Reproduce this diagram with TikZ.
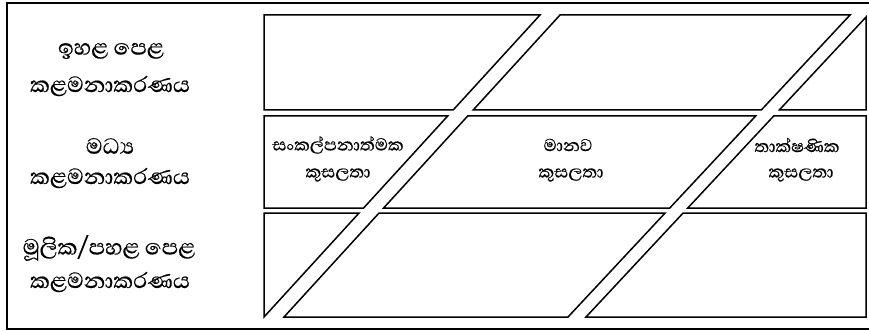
\documentclass[tikz,border=0pt]{standalone}
\usepackage{fontspec}
\newfontfamily\sinhfont[Script=Sinhala,FakeBold=0.4]{Abhaya Libre}
\begin{document}
\begin{tikzpicture}[x=1pt,y=-1pt,
  declare function={xa(\y)=540-0.913907*(\y-15); xb(\y)=560-0.913907*(\y-15);
                    xc(\y)=850-0.933775*(\y-15); xd(\y)=868-0.933775*(\y-15);},
  frame/.style={draw, line width=1.8pt},
  piece/.style={draw, line width=1.5pt, line join=miter},
  lvl/.style={font=\sinhfont\fontsize{28}{32}\selectfont, inner sep=0pt, anchor=center},
  skl/.style={font=\sinhfont\fontsize{22}{26}\selectfont, inner sep=0pt, anchor=center}]
\useasboundingbox (0,0) rectangle (869,331);
\clip (0,0) rectangle (869,331);
\draw[frame] (7,3) rectangle (875,329);
% row 1
\draw[piece] (264,15) -- (540,15) -- ({xa(110)},110) -- (264,110) -- cycle;
\draw[piece] (560,15) -- (850,15) -- ({xc(110)},110) -- ({xb(110)},110) -- cycle;
\draw[piece] (866,17.1) -- (866,110) -- ({xd(110)},110) -- cycle;
% row 2
\draw[piece] (264,116) -- ({xa(116)},116) -- ({xa(208)},208) -- (264,208) -- cycle;
\draw[piece] ({xb(116)},116) -- ({xc(116)},116) -- ({xc(208)},208) -- ({xb(208)},208) -- cycle;
\draw[piece] ({xd(116)},116) -- (866,116) -- (866,208) -- ({xd(208)},208) -- cycle;
% row 3
\draw[piece] (264,213) -- ({xa(213)},213) -- (264,317) -- cycle;
\draw[piece] ({xb(213)},213) -- ({xc(213)},213) -- ({xc(317)},317) -- ({xb(317)},317) -- cycle;
\draw[piece] ({xd(213)},213) -- (866,213) -- (866,317) -- ({xd(317)},317) -- cycle;
% left labels
\node[lvl] (t1) at (111,51) {ඉහළ පෙළ};
\node[lvl] (t2) at (110,86) {කළමනාකරණය};
\node[lvl] (m1) at (110,146) {මධ්‍ය};
\node[lvl] (m2) at (110,178) {කළමනාකරණය};
\node[lvl] (b1) at (109,248) {මූලික/පහළ පෙළ};
\node[lvl] (b2) at (110,282) {කළමනාකරණය};
% skill labels
\node[skl] (c1) at (338,145) {සංකල්පනාත්මක};
\node[skl] (c2) at (338,175) {කුසලතා};
\node[skl] (h1) at (568,145) {මානව};
\node[skl] (h2) at (571,175) {කුසලතා};
\node[skl] (k1) at (797,145) {තාක්ෂණික};
\node[skl] (k2) at (801,175) {කුසලතා};
\end{tikzpicture}
\end{document}
